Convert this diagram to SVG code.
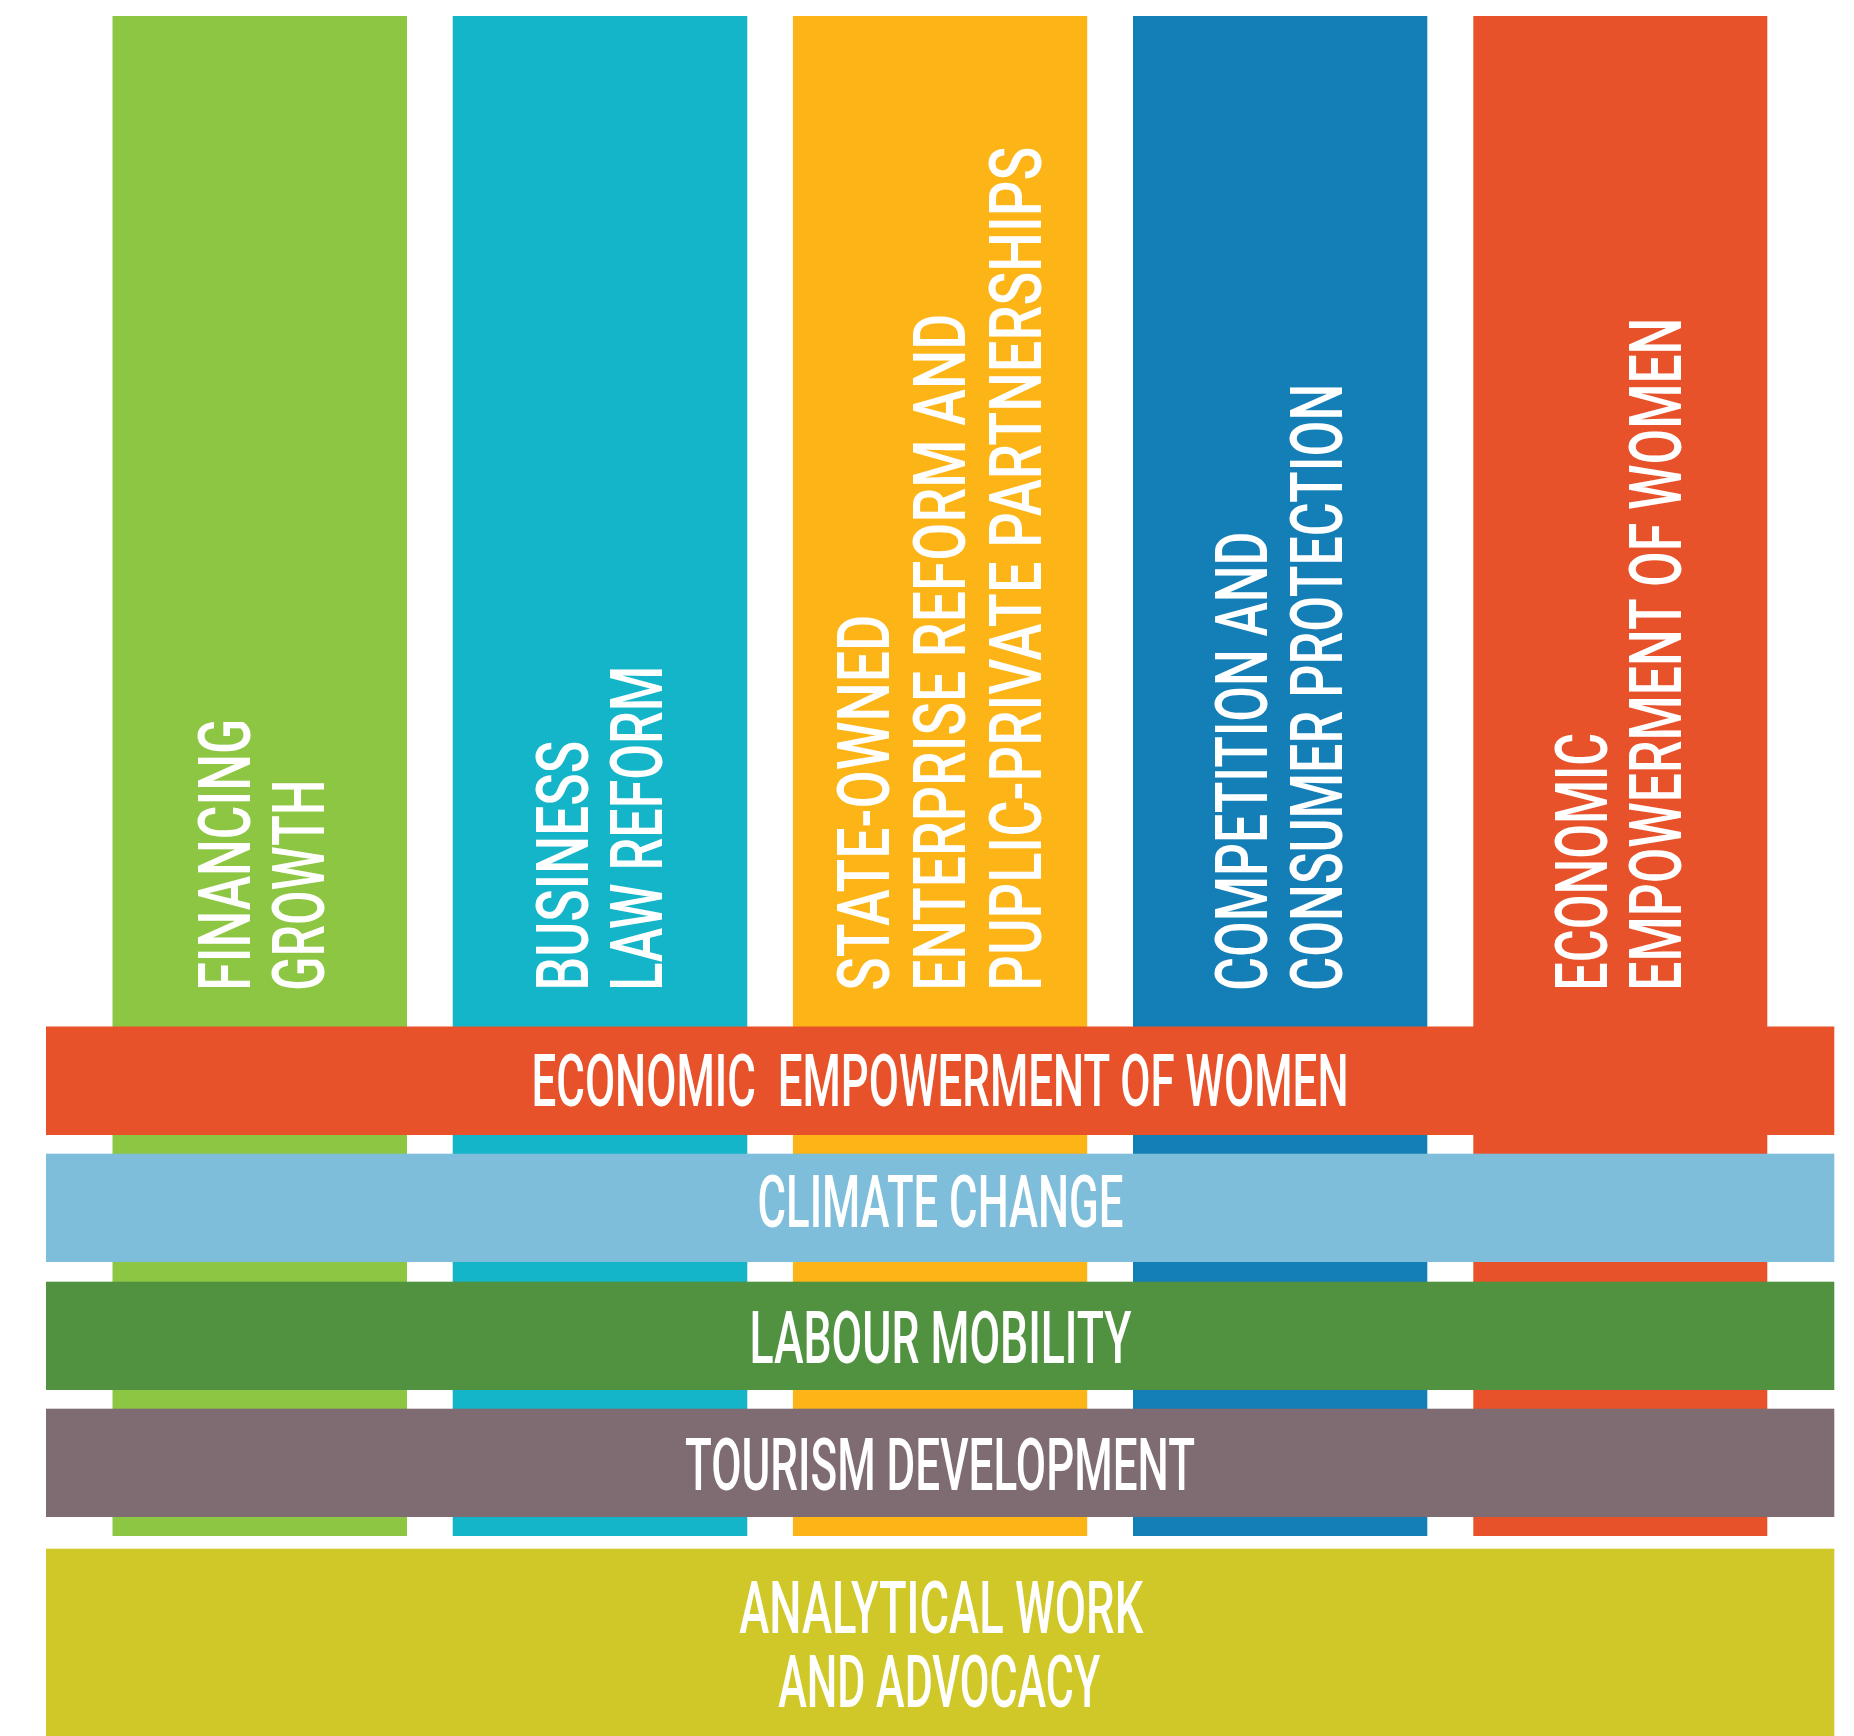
<svg xmlns="http://www.w3.org/2000/svg" width="1854" height="1736" viewBox="0 0 1854 1736">
<style>
.t{font-family:Roboto,"Liberation Sans",sans-serif;font-size:73px;font-weight:500;fill:#fff;white-space:pre}
.c{text-anchor:middle}
</style>
<rect width="1854" height="1736" fill="#fff"/>
<g id="col-financing">
<rect x="112.5" y="16" width="294.5" height="1520" fill="#8DC643"/>
<text class="t" transform="translate(250,990.7) rotate(-90)" textLength="272" lengthAdjust="spacingAndGlyphs">FINANCING</text>
<text class="t" transform="translate(324,990.7) rotate(-90)" textLength="211" lengthAdjust="spacingAndGlyphs">GROWTH</text>
</g>
<g id="col-business">
<rect x="452.7" y="16" width="294.6" height="1520" fill="#15B5C9"/>
<text class="t" transform="translate(587.7,990.7) rotate(-90)" textLength="250" lengthAdjust="spacingAndGlyphs">BUSINESS</text>
<text class="t" transform="translate(662,990.7) rotate(-90)" textLength="325" lengthAdjust="spacingAndGlyphs">LAW REFORM</text>
</g>
<g id="col-soe">
<rect x="792.9" y="16" width="294.3" height="1520" fill="#FCB416"/>
<text class="t" transform="translate(889,990.7) rotate(-90)" textLength="376" lengthAdjust="spacingAndGlyphs">STATE-OWNED</text>
<text class="t" transform="translate(965,990.7) rotate(-90)" textLength="677" lengthAdjust="spacingAndGlyphs">ENTERPRISE REFORM AND</text>
<text class="t" transform="translate(1040.5,990.7) rotate(-90)" textLength="844" lengthAdjust="spacingAndGlyphs">PUPLIC-PRIVATE PARTNERSHIPS</text>
</g>
<g id="col-competition">
<rect x="1133" y="16" width="294.3" height="1520" fill="#147EB6"/>
<text class="t" transform="translate(1267.3,990.7) rotate(-90)" textLength="459" lengthAdjust="spacingAndGlyphs">COMPETITION AND</text>
<text class="t" transform="translate(1342.3,990.7) rotate(-90)" textLength="607" lengthAdjust="spacingAndGlyphs">CONSUMER PROTECTION</text>
</g>
<g id="col-women">
<rect x="1473.3" y="16" width="294" height="1520" fill="#E8522A"/>
<text class="t" transform="translate(1606.7,990.7) rotate(-90)" textLength="258" lengthAdjust="spacingAndGlyphs">ECONOMIC</text>
<text class="t" transform="translate(1681,990.7) rotate(-90)" textLength="673" lengthAdjust="spacingAndGlyphs">EMPOWERMENT OF WOMEN</text>
</g>
<g id="band-women">
<rect x="46" y="1026.5" width="1788.3" height="108.5" fill="#E8522A"/>
<text class="t c" x="940" y="1105.7" textLength="817" lengthAdjust="spacingAndGlyphs">ECONOMIC  EMPOWERMENT OF WOMEN</text>
</g>
<g id="band-climate">
<rect x="46" y="1153.7" width="1788.3" height="108.3" fill="#7EBEDB"/>
<text class="t c" x="940.5" y="1226.7" textLength="366" lengthAdjust="spacingAndGlyphs">CLIMATE CHANGE</text>
</g>
<g id="band-labour">
<rect x="46" y="1281.7" width="1788.3" height="108.3" fill="#509240"/>
<text class="t c" x="940.5" y="1363.3" textLength="382" lengthAdjust="spacingAndGlyphs">LABOUR MOBILITY</text>
</g>
<g id="band-tourism">
<rect x="46" y="1408.7" width="1788.3" height="108.3" fill="#7F6C72"/>
<text class="t c" x="940" y="1490" textLength="510" lengthAdjust="spacingAndGlyphs">TOURISM DEVELOPMENT</text>
</g>
<g id="band-analytical">
<rect x="46" y="1548.7" width="1788.3" height="187.3" fill="#D0C828"/>
<text class="t c" x="941.3" y="1632.7" textLength="404" lengthAdjust="spacingAndGlyphs">ANALYTICAL WORK</text>
<text class="t c" x="939.2" y="1706.7" textLength="322" lengthAdjust="spacingAndGlyphs">AND ADVOCACY</text>
</g>
<g id="connectors"/>
</svg>
